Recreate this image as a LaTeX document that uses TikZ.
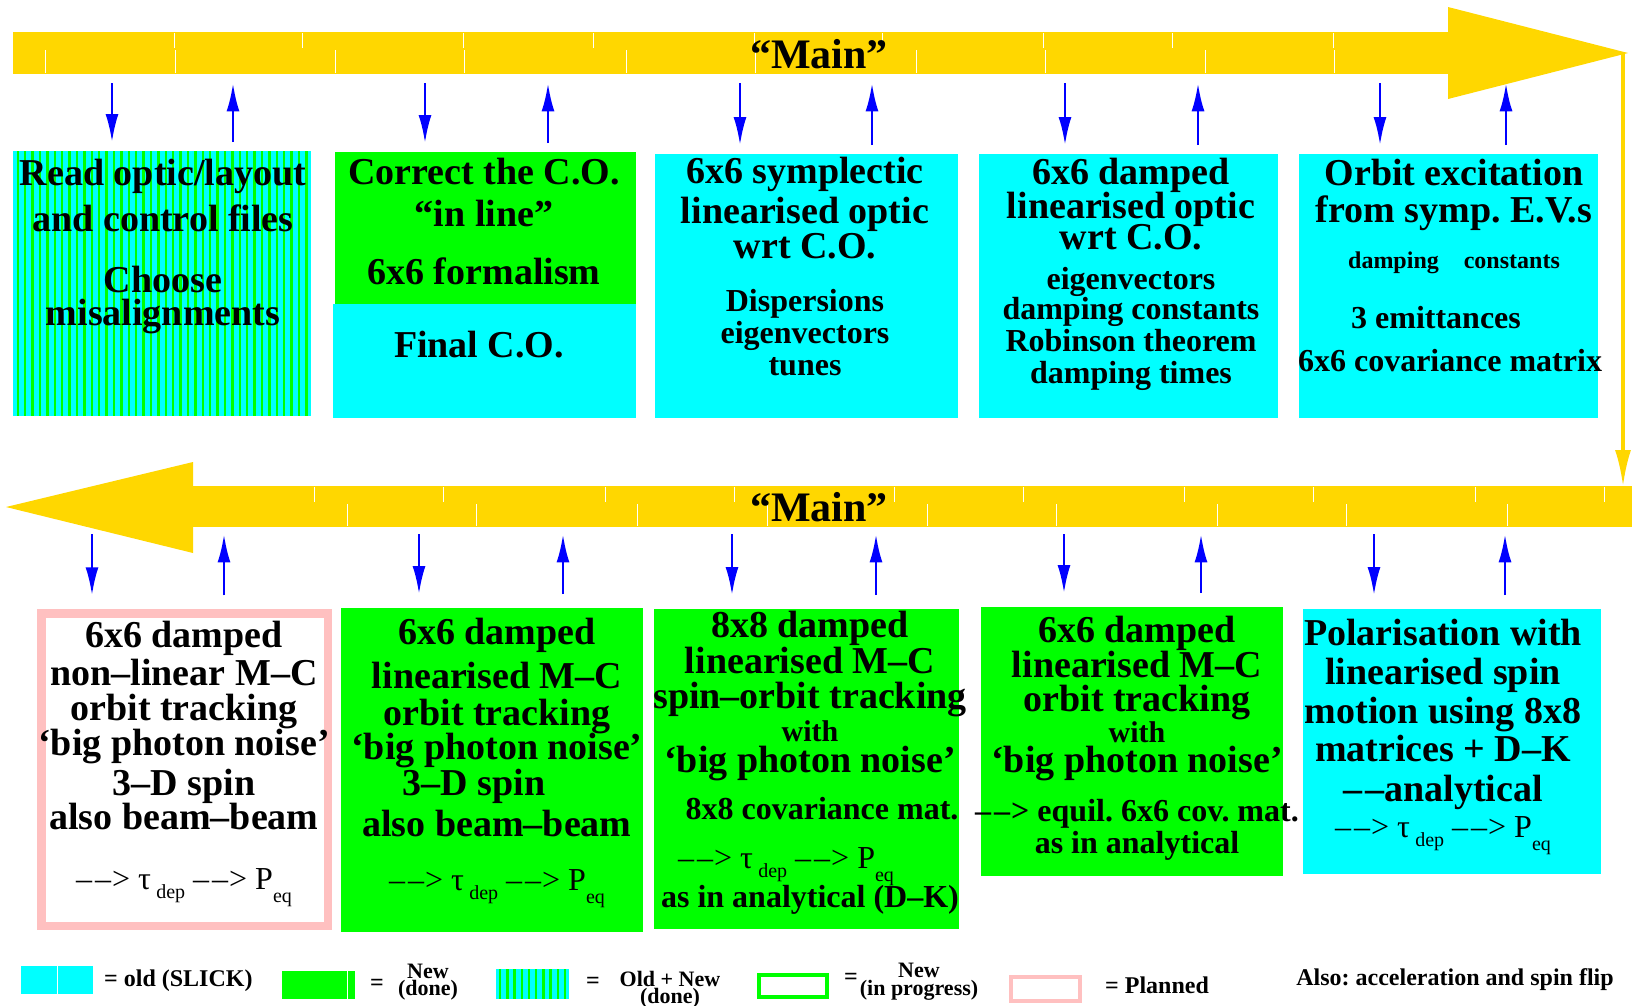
\documentclass[tikz,border=0pt]{standalone}
\usepackage{fontspec}
\setmainfont{Liberation Serif}
\usepackage{tikz}
\usetikzlibrary{arrows.meta,positioning,calc}

\definecolor{oldcyan}{RGB}{0,255,255}
\definecolor{newgreen}{RGB}{0,255,0}
\definecolor{mainyellow}{RGB}{255,215,0}
\definecolor{planpink}{RGB}{255,192,192}

\newcommand\fsmid{\fontsize{32}{0}\selectfont}
\newcommand\fswith{\fontsize{30}{0}\selectfont}
\newcommand\fssmall{\fontsize{24}{0}\selectfont}
\newcommand\dasharrow{--\kern3pt--\kern1pt>}
\newcommand\taupeq{{\mdseries\fsmid \dasharrow{} τ\,\raisebox{-9pt}{\fontsize{20}{0}\selectfont dep} \dasharrow{} P\raisebox{-13pt}{\fontsize{20}{0}\selectfont eq}}}
\lineskiplimit=-1000pt
\frenchspacing

\begin{document}
\begin{tikzpicture}[x=1pt, y=-1pt,
    every node/.style={inner sep=0pt, align=center, font=\bfseries\fontsize{38}{0}\selectfont},
    oldbox/.style={fill=oldcyan, anchor=north west},
    newbox/.style={fill=newgreen, anchor=north west},
    planbox/.style={draw=planpink, line width=8.5pt, anchor=north west},
    bar/.style={fill=mainyellow, anchor=north west},
    flow/.style={blue, line width=2.5pt, -{Latex[length=28pt,width=13pt]}},
    tick/.style={white, line width=0.8pt},
    legend/.style={font=\bfseries\fontsize{24}{0}\selectfont},
    legtwo/.style={font=\bfseries\fontsize{22}{0}\selectfont}]
  \useasboundingbox (0,0) rectangle (1632,1005);

  % the two "Main" bars
  \node[bar, minimum width=1435pt, minimum height=42pt] (mainA) at (13,32) {};
  \fill[mainyellow] (1448,7) -- (1628,53) -- (1448,99) -- cycle;
  \node[bar, minimum width=1439pt, minimum height=41pt] (mainB) at (193,486) {};
  \fill[mainyellow] (193,462) -- (6,507) -- (193,553) -- cycle;
  \foreach \t in {174,302,463,593,754,882,1043,1172,1333} \draw[tick] (\t,33) -- (\t,48);
  \foreach \t in {45,175,335,464,626,755,916,1045,1205,1334} \draw[tick] (\t,50) -- (\t,73);
  \foreach \t in {314,443,605,734,894,1023,1184,1313,1475,1604} \draw[tick] (\t,487) -- (\t,502);
  \foreach \t in {347,476,637,767,927,1056,1217,1346,1507} \draw[tick] (\t,504) -- (\t,526);
  \node[font=\bfseries\fontsize{42}{0}\selectfont] (mainAtxt) at (819,54) {“Main”};
  \node[font=\bfseries\fontsize{42}{0}\selectfont] (mainBtxt) at (819,507) {“Main”};
  \coordinate (tipA) at (1623,53);
  \draw[mainyellow, line width=3.2pt, -{Latex[length=36pt,width=16pt]}] (tipA) -- (tipA |- mainB.north);

  % top row
  \node[oldbox, minimum width=298.5pt, minimum height=265pt] (rd) at (12.5,151) {};
  \foreach \i in {0,...,39} \fill[newgreen] ($(rd.north west)+(4+7.4*\i,0)$) rectangle +(2.4,265);
  \node[newbox, minimum width=301pt, minimum height=152pt] (co) at (335,152) {};
  \node[oldbox, minimum width=303pt, minimum height=114pt] (fco) at (333,304) {};
  \node[oldbox, minimum width=303pt, minimum height=264pt] (sym) at (655,154) {};
  \node[oldbox, minimum width=299pt, minimum height=264pt] (dmp) at (979,154) {};
  \node[oldbox, minimum width=299pt, minimum height=264pt] (orb) at (1299,154) {};

  % bottom row
  \node[planbox, minimum width=286.5pt, minimum height=312.5pt] (nl) at (37.25,609.25) {};
  \node[newbox, minimum width=302pt, minimum height=324pt] (lmc) at (341,608) {};
  \node[newbox, minimum width=305pt, minimum height=320pt] (so8) at (654,609) {};
  \node[newbox, minimum width=302pt, minimum height=269pt] (lmc6) at (981,607) {};
  \node[oldbox, minimum width=298pt, minimum height=265pt] (pol) at (1303,609) {};

  \foreach \b/\d/\u in {rd/112/233, co/425/548, sym/740/872, dmp/1065/1198, orb/1380/1506} {
    \draw[flow] ([yshift=-9pt]mainA.south -| \d,0) -- ([yshift=9pt]\b.north -| \d,0);
    \draw[flow] ([yshift=9pt]\b.north -| \u,0) -- ([yshift=-9pt]mainA.south -| \u,0);
  }
  \foreach \b/\d/\u in {nl/92/224, lmc/419/563, so8/732/876, lmc6/1064/1201, pol/1374/1505} {
    \draw[flow] ([yshift=-7pt]mainB.south -| \d,0) -- ([yshift=14pt]\b.north -| \d,0);
    \draw[flow] ([yshift=14pt]\b.north -| \u,0) -- ([yshift=-7pt]mainB.south -| \u,0);
  }

  % box texts
  \node[anchor=north] (rdtxt) at (163,159) {Read optic/layout\\[46pt] and control files\\[61pt] Choose\\[33pt] misalignments};
  \node[anchor=north] (cotxt) at (484,158) {Correct the C.O.\\[42pt] “in line”\\[58pt] 6x6 formalism};
  \node[anchor=north] (fcotxt) at (479,331) {Final C.O.};
  \node[anchor=north] (symtxt) at (805,157) {6x6 symplectic\\[40pt] linearised optic\\[35pt] wrt C.O.\\[53pt]
    {\fsmid Dispersions}\\[32pt] {\fsmid eigenvectors}\\[32pt] {\fsmid tunes}};
  \node[anchor=north] (dmptxt) at (1131,158) {6x6 damped\\[34pt] linearised optic\\[31pt] wrt C.O.\\[40pt]
    {\fsmid eigenvectors}\\[30pt] {\fsmid damping constants}\\[32pt] {\fsmid Robinson theorem}\\[32pt] {\fsmid damping times}};
  \node[anchor=north] (orbtxt) at (1454,159) {Orbit excitation\\[37pt] from symp. E.V.s\\[46pt]
    {\fssmall damping\hspace{25pt}constants}\\[60pt] {\fsmid 3 emittances\kern36pt}\\[43pt] {\fsmid 6x6 covariance matrix\kern8pt}};

  \node[anchor=north] (nltxt) at (184,621) {6x6 damped\\[38pt] non--linear M--C\\[35pt] orbit tracking\\[35pt]
    ‘big photon noise’\\[40pt] 3--D spin\\[34pt] also beam--beam\\[60pt] \taupeq};
  \node[anchor=north] (lmctxt) at (497,618) {6x6 damped\\[44pt] linearised M--C\\[37pt] orbit tracking\\[34pt]
    ‘big photon noise’\\[36pt] 3--D spin\kern46pt\\[41pt] also beam--beam\\[54pt] \taupeq};
  \node[anchor=north] (so8txt) at (810,611) {8x8 damped\\[36pt] linearised M--C\\[35pt] spin--orbit tracking\\[33pt]
    {\fswith with}\\[31pt] ‘big photon noise’\\[47pt] {\fsmid\kern24pt 8x8 covariance mat.}\\[49pt]
    \taupeq\kern48pt\\[39pt] {\fsmid as in analytical (D--K)}};
  \node[anchor=north] (lmc6txt) at (1137,616) {6x6 damped\\[35pt] linearised M--C\\[34pt] orbit tracking\\[31pt]
    {\fswith with}\\[30pt] ‘big photon noise’\\[49pt] {\fsmid \dasharrow{} equil. 6x6 cov. mat.}\\[32pt] {\fsmid as in analytical}};
  \node[anchor=north] (poltxt) at (1443,619) {Polarisation with\\[39pt] linearised spin\\[39pt] motion using 8x8\\[38pt]
    matrices + D--K\\[40pt] --\kern3pt--analytical\\[36pt] \taupeq};

  % legend
  \node[oldbox, minimum width=72pt, minimum height=28pt] (lgold) at (21,966) {};
  \draw[white, line width=0.8pt] (lgold.north) -- (lgold.south);
  \node[legend, anchor=west] (lgoldtxt) at (104,981) {= old (SLICK)};
  \node[newbox, minimum width=73pt, minimum height=28pt] (lgnew) at (282,971) {};
  \draw[white, line width=0.8pt] ([xshift=-8pt]lgnew.north east) -- ([xshift=-8pt]lgnew.south east);
  \node[legend] (lgneweq) at (377,985) {=};
  \node[legtwo] (lgnewtxt) at (428,982) {New\\[17pt](done)};
  \node[oldbox, minimum width=73pt, minimum height=30pt] (lgboth) at (496,969) {};
  \foreach \i in {0,...,9} \fill[newgreen] ($(lgboth.north west)+(3+7.2*\i,0)$) rectangle +(2.4,30);
  \node[legend] (lgbotheq) at (593,983) {=};
  \node[legtwo] (lgbothtxt) at (670,990) {Old + New\\[17pt](done)};
  \node[draw=newgreen, line width=4pt, anchor=north west, minimum width=68pt, minimum height=22pt] (lgprog) at (757,973) {};
  \node[legend] (lgprogeq) at (851,979) {=};
  \node[legtwo] (lgprogtxt) at (919,982) {New\\[18pt](in progress)};
  \node[planbox, line width=4pt, minimum width=69pt, minimum height=24pt] (lgplan) at (1009,975) {};
  \node[legend, anchor=west] (lgplantxt) at (1105,985) {= Planned};
  \node[legend] (alsotxt) at (1455,980) {Also: acceleration and spin flip};
\end{tikzpicture}
\end{document}
